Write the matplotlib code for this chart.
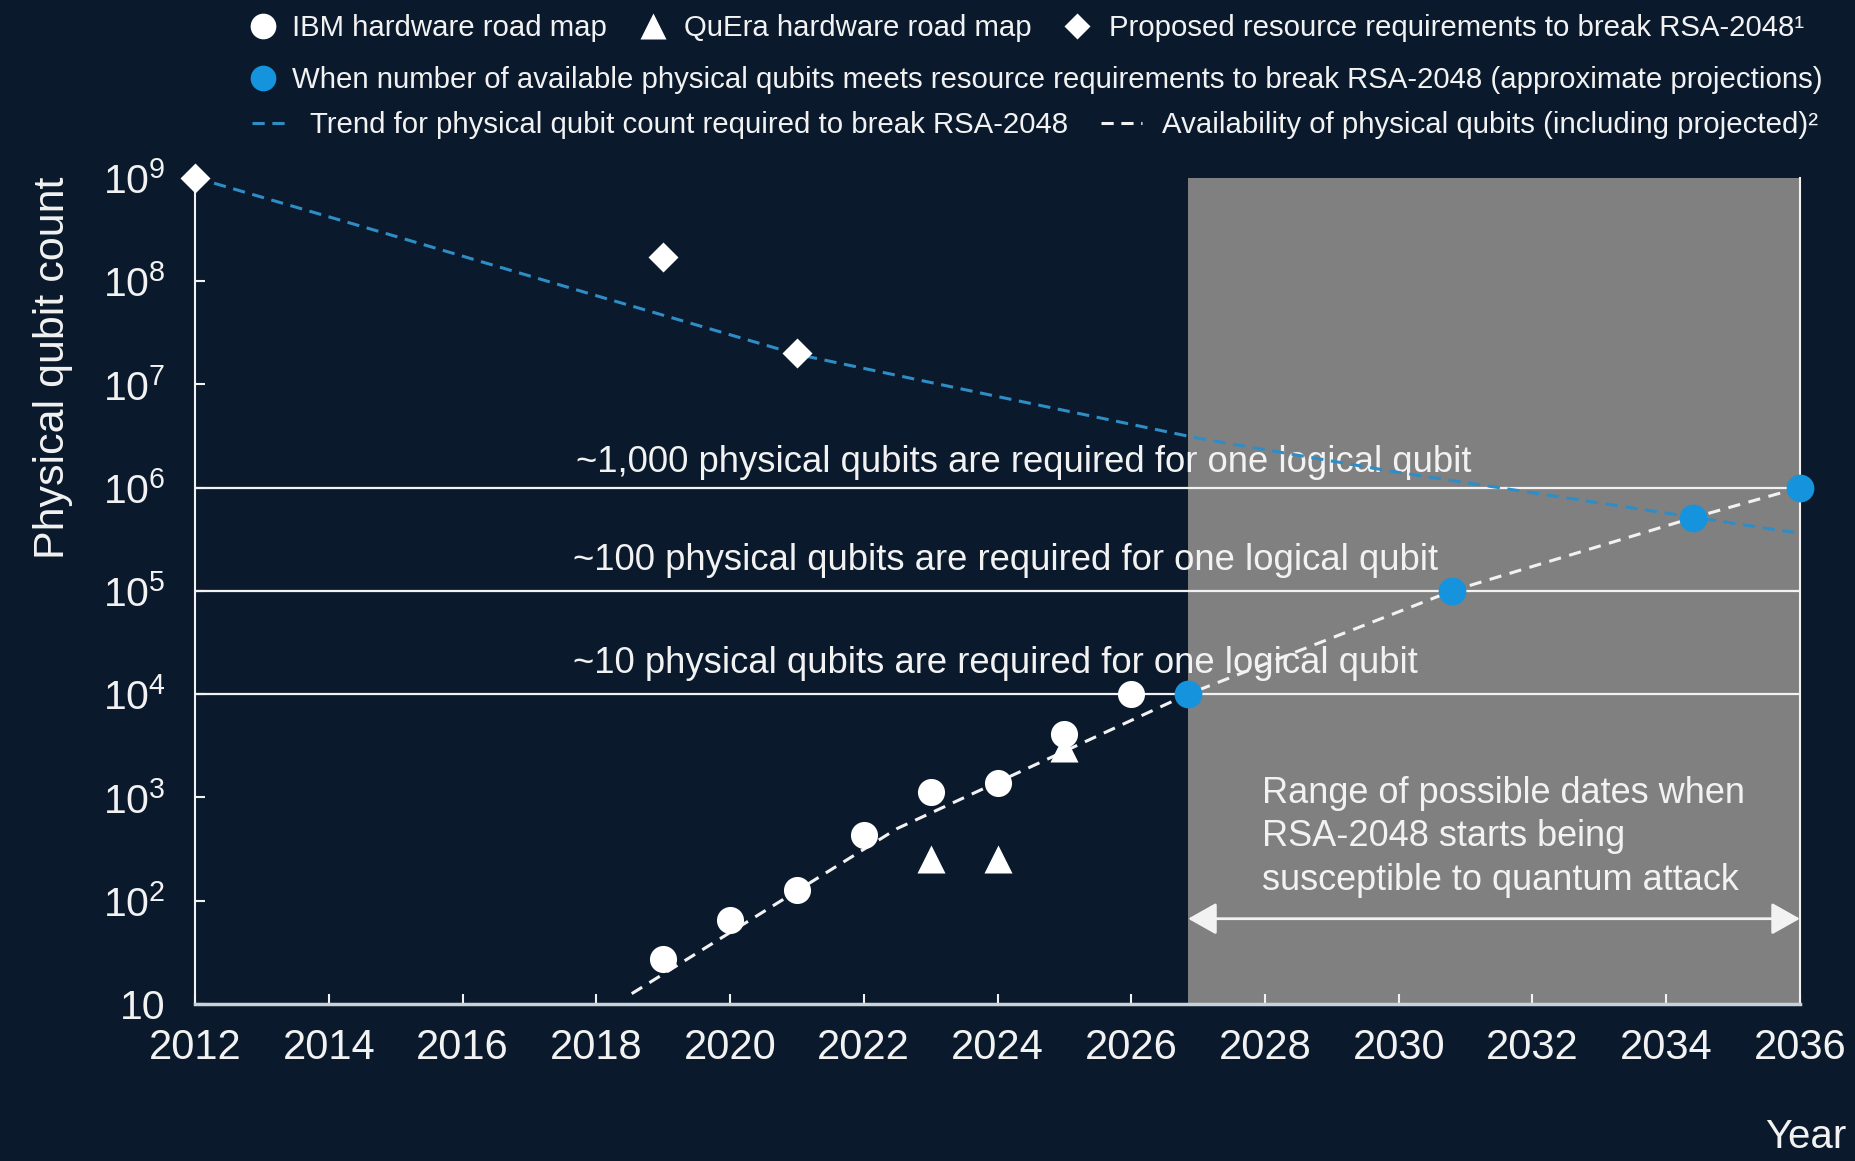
import matplotlib
matplotlib.use("Agg")
import math
import matplotlib.pyplot as plt
from matplotlib.lines import Line2D
from matplotlib.ticker import FixedLocator, FuncFormatter, NullLocator

plt.rcParams['font.family'] = ['Liberation Sans', 'DejaVu Sans']
plt.rcParams['mathtext.fontset'] = 'custom'
plt.rcParams['mathtext.rm'] = 'Liberation Sans'
plt.rcParams['mathtext.it'] = 'Liberation Sans:italic'
plt.rcParams['mathtext.bf'] = 'Liberation Sans:bold'

# ---------------- data ----------------
ibm_years = [2019, 2020, 2021, 2022, 2023, 2024, 2025, 2026]
ibm_qubits = [27, 65, 127, 433, 1121, 1386, 4158, 10000]

quera_years = [2023, 2024, 2025]
quera_qubits = [256, 256, 3000]

proposal_years = [2012, 2019, 2021]
proposal_qubits = [1.0e9, 1.7e8, 2.0e7]

meet_years = [2026.85, 2030.8, 2034.4, 2036]
meet_qubits = [1.0e4, 1.0e5, 5.1e5, 1.0e6]

trend_years = [2012, 2015, 2018, 2021, 2024, 2027, 2030, 2033, 2036]
trend_qubits = [1.0e9, 2.7e8, 7.2e7, 1.95e7, 7.6e6, 3.0e6, 1.4e6, 7.1e5, 3.6e5]

avail_years = [2018.53, 2022.5, 2026.85, 2030.8, 2034.4, 2036]
avail_qubits = [12.6, 500, 1.0e4, 1.0e5, 5.1e5, 1.0e6]

threshold_levels = [1.0e6, 1.0e5, 1.0e4]
threshold_labels = ["~1,000 physical qubits are required for one logical qubit",
                    "~100 physical qubits are required for one logical qubit",
                    "~10 physical qubits are required for one logical qubit"]
threshold_label_x = [2017.7, 2017.65, 2017.65]

range_start, range_end = 2026.85, 2036
range_arrow_y = 67
range_text = "Range of possible dates when\nRSA-2048 starts being\nsusceptible to quantum attack"

x_ticks = list(range(2012, 2037, 2))
y_exponents = [1, 2, 3, 4, 5, 6, 7, 8, 9]

# ---------------- style ----------------
BG = '#0a1a2c'
WHITE = '#f2f2f2'
GRAY = '#808080'
BLUE_PT = '#1593dc'
BLUE_LN = '#2f8dc6'

fig = plt.figure(figsize=(18.56, 11.61), dpi=100, facecolor=BG)
ax = fig.add_axes([0.1051, 0.1352, 0.8647, 0.7118])
ax.set_facecolor(BG)
ax.set_yscale('log')
ax.set_xlim(2012, 2036)
ax.set_ylim(10, 1e9)

# gray range box
ax.axvspan(range_start, range_end, color=GRAY, zorder=1, lw=0)

# threshold lines + labels
label_offsets = [11, 15, 15]
for lvl, lab, lx, off in zip(threshold_levels, threshold_labels, threshold_label_x, label_offsets):
    ax.axhline(lvl, color=WHITE, lw=1.6, zorder=2)
    ax.annotate(lab, xy=(lx, lvl), xytext=(0, off), textcoords='offset points',
                ha='left', va='baseline', fontsize=26.3, color=WHITE, zorder=3)

# trend and availability lines
ax.plot(trend_years, trend_qubits, color=BLUE_LN, lw=2.2, ls=(0, (4, 2.5)),
        zorder=4, clip_on=False)
ax.plot(avail_years, avail_qubits, color=WHITE, lw=2.2, ls=(0, (4, 2.8)),
        zorder=4, clip_on=False)

# markers
ax.plot(ibm_years, ibm_qubits, ls='none', marker='o', ms=19.5, color='white',
        mec='none', zorder=5, clip_on=False)
ax.plot(quera_years, quera_qubits, ls='none', marker='^', ms=20.5, color='white',
        mec='none', zorder=5, clip_on=False)
ax.plot(proposal_years, proposal_qubits, ls='none', marker='D', ms=15, color='white',
        mec='none', zorder=5, clip_on=False)
ax.plot(meet_years, meet_qubits, ls='none', marker='o', ms=20, color=BLUE_PT,
        mec='none', zorder=6, clip_on=False)

# range annotation
ax.annotate('', xy=(range_start, range_arrow_y), xytext=(range_end, range_arrow_y),
            arrowprops=dict(arrowstyle='<|-|>,head_length=0.8,head_width=0.45',
                            color=WHITE, lw=2, shrinkA=0, shrinkB=0,
                            mutation_scale=22), zorder=5)
ax.text(2027.95, 414, range_text, ha='left', va='center', fontsize=26,
        color=WHITE, linespacing=1.3, zorder=5)

# spines / ticks
ax.spines['top'].set_visible(False)
ax.spines['left'].set_color(WHITE)
ax.spines['left'].set_linewidth(1.5)
ax.spines['right'].set_color(WHITE)
ax.spines['right'].set_linewidth(1.5)
ax.spines['bottom'].set_color('#c9d2da')
ax.spines['bottom'].set_linewidth(2.5)

ax.xaxis.set_major_locator(FixedLocator(x_ticks))
ax.xaxis.set_major_formatter(FuncFormatter(lambda v, p: f"{int(round(v))}"))
ax.yaxis.set_major_locator(FixedLocator([10.0 ** e for e in y_exponents]))
ax.yaxis.set_minor_locator(NullLocator())
ax.xaxis.set_minor_locator(NullLocator())


def yfmt(v, p):
    e = int(round(math.log10(v)))
    if e == 1:
        return "10"
    return r"$\mathregular{10^{%d}}$" % e


ax.yaxis.set_major_formatter(FuncFormatter(yfmt))
ax.tick_params(axis='both', direction='in', colors=WHITE, length=7, width=1.5)
ax.tick_params(axis='x', labelsize=30, pad=17)
ax.tick_params(axis='y', labelsize=29.5, pad=21)
for t in ax.get_xticklabels() + ax.get_yticklabels():
    t.set_color(WHITE)

fig.text(0.0285, 0.683, "Physical qubit count", rotation=90, ha='center',
         va='center', fontsize=31, color=WHITE)
fig.text(0.9947, 0.0207, "Year", ha='right', va='center', fontsize=29, color=WHITE)

# ---------------- legend (one entry per legend, placed like the original) ----------------
FS = 21.2
FS_PX = FS * 100 / 72.0
W, H = 1856.0, 1161.0


def add_entry(handle, label, x0_px, yc_px, hlen, hpad):
    return fig.legend([handle], [label], loc='center left',
                      bbox_to_anchor=(x0_px / W, 1 - yc_px / H),
                      frameon=False, fontsize=FS, handlelength=hlen,
                      handletextpad=hpad, borderpad=0, borderaxespad=0,
                      labelcolor=WHITE, handleheight=0.7)


h_ibm = Line2D([], [], ls='none', marker='o', ms=18.5, color='white', mec='none')
h_quera = Line2D([], [], ls='none', marker='^', ms=19, color='white', mec='none')
h_prop = Line2D([], [], ls='none', marker='D', ms=13, color='white', mec='none')
h_meet = Line2D([], [], ls='none', marker='o', ms=18.5, color=BLUE_PT, mec='none')
h_trend = Line2D([], [], color=BLUE_LN, lw=2.2, ls=(0, (4, 2.5)))
h_avail = Line2D([], [], color=WHITE, lw=2.2, ls=(0, (4, 2.5)))

add_entry(h_ibm, "IBM hardware road map", 262.8 - FS_PX / 2, 28, 1.0, 0.5)
add_entry(h_quera, "QuEra hardware road map", 653.4 - FS_PX / 2, 28, 1.0, 0.55)
add_entry(h_prop, "Proposed resource requirements to break RSA-2048\u00b9",
          1077 - FS_PX / 2, 28, 1.0, 0.58)
add_entry(h_meet, "When number of available physical qubits meets resource "
          "requirements to break RSA-2048 (approximate projections)",
          262.8 - FS_PX / 2, 80, 1.0, 0.5)
add_entry(h_trend, "Trend for physical qubit count required to break RSA-2048",
          252, 125, 1.3, 0.67)
add_entry(h_avail, "Availability of physical qubits (including projected)\u00b2",
          1101, 125, 1.4, 0.67)

fig.savefig("out.png", dpi=100, facecolor=BG)
